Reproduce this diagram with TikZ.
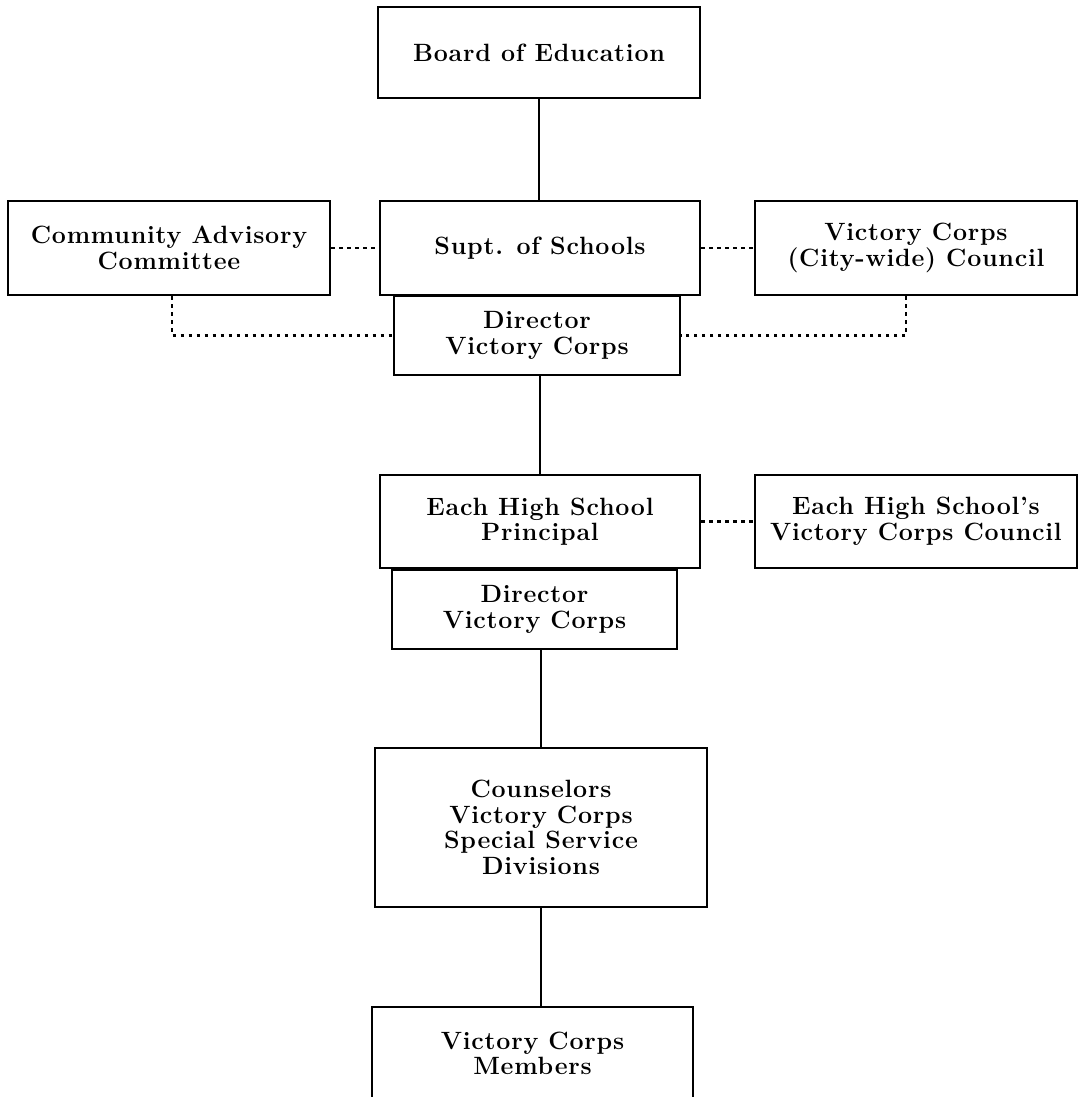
\documentclass[tikz,border=0pt]{standalone}
\usepackage{fontspec}
\setmainfont{Latin Modern Roman}[LetterSpace=3]
\usepackage{tikz}
\usetikzlibrary{positioning,calc}

\begin{document}
\begin{tikzpicture}[x=1pt,y=-1pt,
    box/.style={rectangle, draw, line width=2.2pt, inner sep=0pt, align=center,
                font=\fontsize{25}{25.5}\selectfont\bfseries},
    solidline/.style={line width=2.2pt},
    dotline/.style={line width=2.2pt, dash pattern=on 3.5pt off 4.5pt}]
    \useasboundingbox (0,0) rectangle (1084,1097);

    % Top
    \node[box, minimum width=322, minimum height=91] (board) at (539,52.5) {Board of Education};

    % Second row
    \node[box, minimum width=322, minimum height=94] (cac) at (169,248) {Community Advisory\\Committee};
    \node[box, minimum width=320, minimum height=94] (supt) at (540,248) {Supt. of Schools};
    \node[box, minimum width=322, minimum height=94] (vcc) at (916,248) {Victory Corps\\(City-wide) Council};
    \node[box, minimum width=286, minimum height=79] (dir1) at (537,335.5) {Director\\Victory Corps};

    % High school level
    \node[box, minimum width=320, minimum height=93] (principal) at (540,521.5) {Each High School\\Principal};
    \node[box, minimum width=322, minimum height=93] (hsvcc) at (916,521.5) {Each High School's\\Victory Corps Council};
    \node[box, minimum width=285, minimum height=79] (dir2) at (534.5,609.5) {Director\\Victory Corps};

    % Counselors and members
    \node[box, minimum width=332, minimum height=159] (couns) at (541,827.5) {Counselors\\Victory Corps\\Special Service\\Divisions};
    \node[box, minimum width=321, minimum height=93] (members) at (532.5,1053.5) {Victory Corps\\Members};

    % Solid lines
    \draw[solidline] (board.south) -- (board.south |- supt.north);
    \draw[solidline] (principal.north) -- (principal.north |- dir1.south);
    \draw[solidline] (couns.north) -- (couns.north |- dir2.south);
    \draw[solidline] (couns.south) -- (couns.south |- members.north);

    % Dotted lines
    \draw[dotline] (cac.east) -- (supt.west);
    \draw[dotline] (supt.east) -- (vcc.west);
    \draw[dotline] ([xshift=3pt]cac.south) |- (dir1.west);
    \draw[dotline] ([xshift=-10pt]vcc.south) |- (dir1.east);
    \draw[dotline] (principal.east) -- (hsvcc.west);
\end{tikzpicture}
\end{document}
